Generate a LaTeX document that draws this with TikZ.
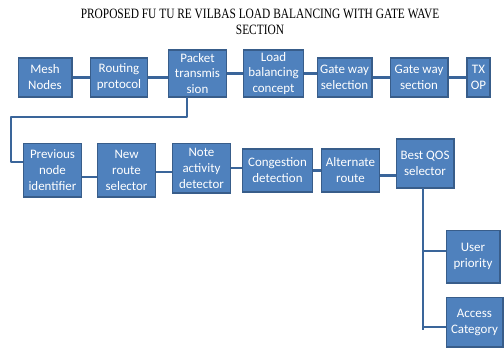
\documentclass[tikz,border=0pt]{standalone}
\usepackage{fontspec}
\setmainfont{Carlito}
\newfontfamily\titlefont{Liberation Serif}
\begin{document}
\begin{tikzpicture}[x=1bp,y=-1bp,
  blk/.style={draw=boxedge,fill=boxfill,line width=1.2bp,inner sep=0pt,
    text=white,align=center,font=\fontsize{13}{16}\selectfont},
  wire/.style={draw=wirecol,line width=2.4bp}]
\definecolor{boxfill}{HTML}{4F81BD}
\definecolor{boxedge}{HTML}{385D8A}
\definecolor{wirecol}{HTML}{3A659A}
\useasboundingbox (0,0) rectangle (504,347);
\newcommand\bx[6]{\node[blk,minimum width={#4-#2},minimum height={#5-#3}] (#1) at ({(#2+#4)/2},{(#3+#5)/2}) {#6};}
% title
\node[font=\titlefont\fontsize{11}{12}\selectfont,align=center,inner sep=0pt,yscale=1.3,xscale=1.04] (title) at (260,22)
  {PROPOSED FU TU RE VILBAS LOAD BALANCING WITH GATE WAVE\\SECTION};
% row 1
\bx{mesh}{18}{58}{72}{97}{Mesh\\Nodes}
\bx{rout}{90}{58}{148}{97}{Routing\\protocol}
\bx{pkt}{168}{50}{227}{97}{Packet\\transmis\\sion}
\bx{load}{243}{50}{304}{97}{Load\\balancing\\concept}
\bx{gsel}{317}{58}{372}{97}{Gate way\\selection}
\bx{gsec}{390}{58}{448}{97}{Gate way\\section}
\bx{txop}{467}{58}{490}{97}{TX\\OP}
% row 2
\bx{prev}{23}{143}{82}{197}{Previous\\node\\identifier}
\bx{newr}{97}{143}{156}{197}{New\\route\\selector}
\bx{note}{172}{143}{231}{193}{Note\\activity\\detector}
\bx{cong}{242}{149}{313}{192}{Congestion\\detection}
\bx{alt}{321}{149}{380}{192}{Alternate\\route}
\bx{best}{396}{139}{454}{188}{Best QOS\\selector}
% row 3
\bx{user}{446}{230}{500}{283}{User\\priority}
\bx{acc}{446}{297}{503}{347}{Access\\Category}
% connectors row 1
\draw[wire] (mesh) -- (rout);
\draw[wire] (rout.east) -- (rout.east -| pkt.west);
\draw[wire] (pkt) -- (load);
\draw[wire] (load.east) -- (load.east -| gsel.west);
\draw[wire] (gsel) -- (gsec);
\draw[wire] (gsec) -- (txop);
% feedback
\coordinate (d0) at (187,97);
\coordinate (d1) at (187,117);
\coordinate (d2) at (11,117);
\coordinate (d3) at (11,162);
\draw[wire,line join=round] (d0) -- (d1) -- (d2) -- (d3) -- (d3 -| prev.west);
% row 2
\draw[wire] ([yshift=-7bp]prev.east) -- ([yshift=-7bp]prev.east -| newr.west);
\draw[wire] ([yshift=-2bp]newr.east) -- ([yshift=-2bp]newr.east -| note.west);
\draw[wire] (note.east) -- (note.east -| cong.west);
\draw[wire] (cong) -- (alt);
\draw[wire] ([yshift=-5bp]alt.east) -- ([yshift=-5bp]alt.east -| best.west);
% row 3
\coordinate (v1) at (423,188);
\coordinate (v2) at (423,330);
\coordinate (b1) at (423,251);
\coordinate (b2) at (423,327);
\draw[wire] (v1) -- (v2);
\draw[wire] (b1) -- (b1 -| user.west);
\draw[wire] (b2) -- (b2 -| acc.west);
\end{tikzpicture}
\end{document}
